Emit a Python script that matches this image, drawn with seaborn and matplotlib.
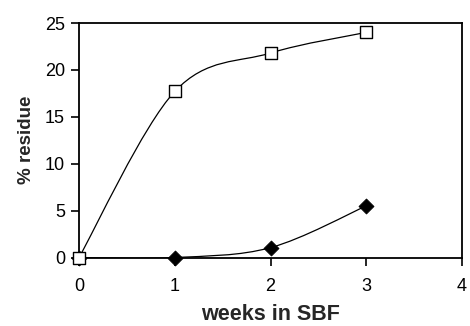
import numpy as np
import pandas as pd
import seaborn as sns
import matplotlib
matplotlib.use('Agg')
import matplotlib.pyplot as plt
from matplotlib.path import Path
from matplotlib.patches import PathPatch

weeks = [0, 1, 2, 3]
open_squares = [0, 17.7, 21.8, 24.0]
filled_diamonds = [0, 0, 1.05, 5.5]


def smooth_path(xs, ys):
    # Excel style smoothed line: cubic bezier through the points
    pts = np.column_stack([xs, ys]).astype(float)
    padded = np.vstack([pts[0], pts, pts[-1]])
    verts = [pts[0]]
    codes = [Path.MOVETO]
    for i in range(len(pts) - 1):
        p0, p1, p2, p3 = padded[i], padded[i + 1], padded[i + 2], padded[i + 3]
        verts += [p1 + (p2 - p0) / 6, p2 - (p3 - p1) / 6, p2]
        codes += [Path.CURVE4] * 3
    return Path(verts, codes)


sns.set_style("ticks")
plt.rcParams['font.family'] = ['Liberation Sans', 'DejaVu Sans']

fig = plt.figure(figsize=(4.7, 3.26), dpi=100)
ax = fig.add_axes([79 / 470, (326 - 257.5) / 326, 383 / 470, 234.5 / 326])

data = pd.DataFrame({'week': weeks, 'sq': open_squares, 'dia': filled_diamonds})

for col in ['dia', 'sq']:
    ax.add_patch(PathPatch(smooth_path(data['week'], data[col]), facecolor='none',
                           edgecolor='black', lw=0.9, zorder=2))

sns.scatterplot(data=data, x='week', y='dia', marker='D', s=58, color='black',
                edgecolor='black', ax=ax, zorder=3)
sns.scatterplot(data=data, x='week', y='sq', marker='s', s=80, color='white',
                edgecolor='black', linewidth=1.0, ax=ax, zorder=4)
for c in ax.collections:
    c.set_clip_on(False)

ax.set_xlim(0, 4)
ax.set_ylim(0, 25)
ax.set_xticks([0, 1, 2, 3, 4])
ax.set_yticks([0, 5, 10, 15, 20, 25])
for s in ax.spines.values():
    s.set_color('black')
    s.set_linewidth(1.3)
ax.tick_params(axis='both', direction='out', length=6, width=1.2, colors='black',
               labelsize=13)
ax.tick_params(axis='x', pad=8.5)
ax.tick_params(axis='y', pad=4)
ax.set_xlabel("weeks in SBF", fontsize=15.5, fontweight='bold', labelpad=7)
ax.set_ylabel("% residue", fontsize=13.5, fontweight='bold', labelpad=7.5)

plt.savefig("out.png", dpi=100)
